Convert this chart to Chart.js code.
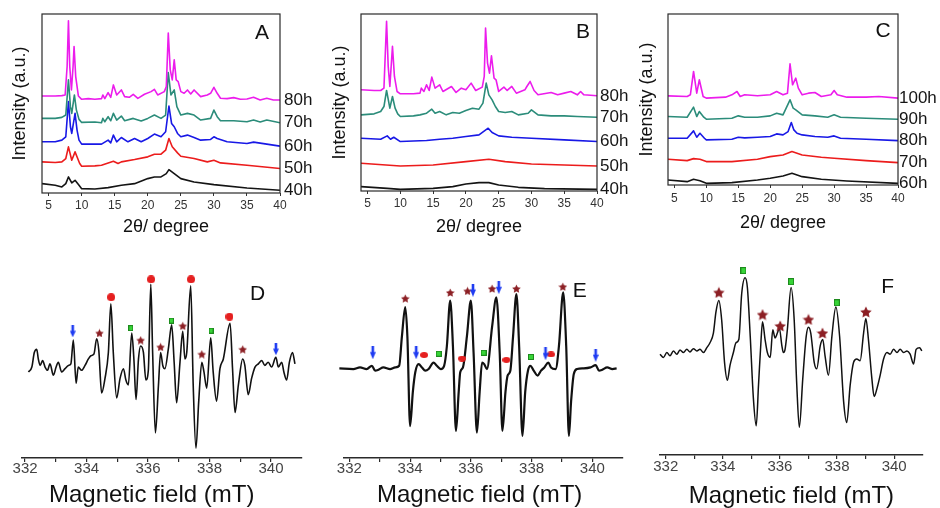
<!DOCTYPE html>
<html><head><meta charset="utf-8">
<script src="https://cdn.jsdelivr.net/npm/chart.js@4.4.1/dist/chart.umd.min.js"></script>
<style>
html,body{margin:0;padding:0;background:#fff;}
body{width:940px;height:508px;position:relative;overflow:hidden;}
canvas{position:absolute;display:block;}
</style></head><body>
<canvas id="cA" width="312" height="245" style="left:0;top:0"></canvas>
<canvas id="cB" width="310" height="245" style="left:320px;top:0"></canvas>
<canvas id="cC" width="310" height="241" style="left:630px;top:0"></canvas>
<canvas id="cD" width="320" height="258" style="left:0;top:250px"></canvas>
<canvas id="cE" width="310" height="258" style="left:320px;top:250px"></canvas>
<canvas id="cF" width="310" height="258" style="left:630px;top:250px"></canvas>
<script>
// ---------- tick labels ----------
const xrdTicks = [5,10,15,20,25,30,35,40];
const eprTicks = [332,333,334,335,336,337,338,339,340];

// ---------- panel A (XRD, [2theta, intensity a.u.]) ----------
const aLabels = ['40h','50h','60h','70h','80h'];
const a40h = [[4,5.6],[6,4.6],[7,3.6],[7.6,5.6],[8.0,9.6],[8.5,6],[9.0,7.6],[9.6,4.6],[10,2.6],[12,2.4],[14,3.2],[16,4.6],[18,5.6],[20,8.6],[21,9.6],[22,9.6],[22.8,11.6],[23.2,14],[24,11.6],[25,8.6],[27,6.6],[30,5],[35,3],[40,1.6]];
const a50h = [[4,18.6],[6,18.2],[7,18.6],[7.6,20.6],[8.0,27.6],[8.5,19.6],[9.0,24.6],[9.7,17.6],[10,16],[12,16.2],[13,16.6],[14.8,19],[15.5,17.6],[16,18.6],[18,20],[20,21.6],[21,23.2],[22,23.2],[22.7,25.6],[23.2,32.6],[23.7,27.6],[24.5,24],[25,22],[27,20.6],[29,18.6],[30,19.6],[31,18],[35,16.6],[40,14.6]];
const a60h = [[4,30.6],[6,30.6],[7,31.6],[7.6,33.6],[8.0,54.6],[8.3,39.6],[8.5,35.6],[9.0,47.6],[9.3,37.6],[9.6,31.6],[10,29.2],[12,29.2],[13,29.2],[14,31.6],[14.4,30],[14.8,34.6],[15.3,30.6],[16,33.2],[17,30.6],[18,32.6],[19,30.6],[20,32.6],[21,35.2],[22,33.6],[22.7,36.6],[23.2,52],[23.6,41.6],[24.0,39.6],[24.5,35.6],[25,33.6],[26,34.6],[27,33.2],[28,31.6],[29.5,32],[30,33.6],[30.5,32.6],[32,30.6],[35,29.6],[36,30.4],[38,29.2],[40,28]];
const a70h = [[4,44.6],[6,44.6],[7,45.2],[7.6,46.6],[8.0,67.6],[8.3,51.6],[8.5,47.6],[8.9,58.6],[9.2,49.6],[9.6,44],[10,42.2],[12,42.4],[13,42],[13.2,44.6],[13.5,42.6],[14,45.6],[14.4,43.2],[14.8,47.6],[15.3,43.6],[16,46],[16.5,43.2],[17.8,44.6],[19,43],[20,44.6],[21,46.6],[22,44.6],[22.7,46.6],[23.1,72],[23.5,58.6],[24.0,61.6],[24.4,51.6],[25,46.6],[26,47.6],[27,46.6],[28,43.6],[29.5,44.6],[30,49.6],[30.5,45.6],[31,43.2],[33,43.2],[35,42.6],[36,43.6],[37,42.4],[38,43.6],[40,42]];
const a80h = [[4,58],[5,58],[6,58],[7,58.2],[7.5,58.6],[7.8,75.6],[8.0,103],[8.2,75.6],[8.45,61.6],[8.7,75.6],[8.85,87.6],[9.1,69.6],[9.5,58],[10,56],[11,56.4],[12,56],[13,56.4],[13.2,58.6],[13.5,56.4],[14,60],[14.4,57.2],[14.8,64.6],[15.3,58.6],[16,61.6],[16.5,57.6],[17.2,57.2],[17.8,59],[18.5,56.6],[19.5,59],[20.5,60.6],[21,62],[21.5,58.6],[22.5,60.6],[22.8,63.6],[23.1,95.6],[23.4,73.6],[23.7,67.6],[24.0,79.6],[24.3,67.6],[24.6,66.6],[25,60.6],[25.5,59.6],[26,61.6],[26.5,59.2],[27.0,61.6],[28,57.6],[29,58.6],[29.5,59.6],[30,63.2],[30.5,59.6],[31,56.6],[32,56.4],[33,57],[34,56],[35,56.2],[36,57.2],[37,55.6],[38,56.6],[39,55.6],[40,55.6]];

// ---------- panel B ----------
const bLabels = ['40h','50h','60h','70h','80h'];
const b40h = [[4,2.6],[8,1.6],[10,1],[15,1.6],[18,2.6],[20,4.2],[22,5],[23.5,5],[25,3.6],[28,2.2],[32,1.4],[40,1]];
const b50h = [[4,16.6],[10,15],[15,15.6],[20,17.6],[23.5,19],[26,17.6],[30,16.2],[35,15.6],[40,15]];
const b60h = [[4,31.6],[7,31],[8.0,33],[8.5,31],[9.0,32.2],[10,29.6],[14,30.2],[16,31],[18,31.6],[20,32.6],[22,33.6],[23.4,37.6],[24,35],[25,33],[27,32.2],[30,31.6],[35,30.6],[40,29.6]];
const b70h = [[4,45.6],[6,46.2],[7,47.6],[7.5,50.6],[7.9,60.2],[8.4,49.6],[8.8,56.6],[9.2,49.6],[9.6,46.2],[10,44.6],[12,45],[13,45.6],[14,46.6],[14.8,49],[15.3,46.6],[16,47.6],[17,45.6],[18,47],[19,46.6],[20,48.2],[21,49.6],[22,49],[22.6,52.6],[23.1,64.6],[23.5,57.6],[24,54.6],[24.5,50.6],[25,47.6],[26,47],[27,47.6],[28,45.6],[29.5,46.6],[30,48.6],[31,45.6],[33,45],[35,45],[37,44.6],[40,44.2]];
const b80h = [[4,60.6],[6,60.2],[7,60.2],[7.5,61.6],[7.9,101.6],[8.15,74.6],[8.4,62.6],[8.6,74.6],[8.8,86.6],[9.1,68.6],[9.5,59.6],[10,58.2],[12,58.2],[13,58.6],[13.2,61.6],[13.6,59.6],[14,63.6],[14.4,60.2],[14.8,68.2],[15.3,61.6],[16,63.6],[16.5,59.6],[17.8,62.6],[18.5,59],[19.3,61.6],[20,60.6],[20.8,64.6],[21.5,60.2],[22.5,62.2],[22.8,68.6],[23.0,97.6],[23.3,76.6],[23.6,70.6],[23.9,81],[24.3,67.6],[24.6,66.6],[25,59.6],[25.8,62.2],[26.3,60.2],[27,62.6],[27.7,58.6],[29,60.6],[29.3,62.6],[29.8,65.6],[30.4,60.2],[31,57.6],[33,59],[34,57.6],[35,58.6],[36,59.6],[37,57.6],[37.5,59.6],[38,57.6],[40,57]];

// ---------- panel C ----------
const cLabels = ['60h','70h','80h','90h','100h'];
const c60h = [[4,3],[7,2],[8,3.4],[9,2.6],[10,1],[14,1.4],[18,3],[20,4],[22,5.4],[23.4,7],[25,5],[28,3.4],[32,2.4],[40,1]];
const c70h = [[4,15.4],[7,14.6],[8,15.8],[9,15.4],[10,14],[14,14],[18,15.4],[20,17],[22,18],[23.4,20],[25,18],[28,16.6],[30,16],[35,14.6],[40,13.4]];
const c80h = [[4,28],[7,28],[8.0,32.4],[8.5,28.6],[9.0,31],[9.7,28],[10,27],[14,27.4],[15,28.6],[16,28.2],[18,28.6],[20,29],[21,30.6],[22,30],[22.8,32],[23.3,37.4],[23.7,33],[24.2,31],[25,30],[27,29],[29,28.6],[30,29.4],[31,28],[35,27.4],[40,26.6]];
const c90h = [[4,41],[7,40.6],[8.0,46.6],[8.5,41],[8.9,44],[9.6,40.6],[10,39.4],[14,40],[15,41.4],[16,40.6],[18,40.6],[20,41.4],[21,43],[22,42],[23.1,51],[23.6,46],[24,45],[25,42],[27,41.4],[29,40.6],[30,42],[31,40.6],[35,40],[40,39.4]];
const c100h = [[4,53.4],[7,53],[7.5,54],[8.0,68],[8.5,55],[8.9,63],[9.5,53],[10,52],[13,52.6],[14,54],[14.8,56],[15.3,53],[16,54],[18,53.4],[20,54],[21,56],[22,54],[22.7,55],[23.1,72.6],[23.5,60],[24.0,64],[24.4,58],[25,54],[26,55],[27,55.4],[28,53],[29.5,54],[30,56.6],[30.5,54],[32,52.6],[35,52.6],[37,53],[40,52]];

// ---------- panel D (EPR, [field mT, signal a.u.]) ----------
const dSpectrum = [[332.11,-2],[332.22,1],[332.30,10],[332.38,12],[332.43,6],[332.49,2],[332.57,5],[332.65,1],[332.73,-1],[332.81,3],[332.92,-4],[333.01,1],[333.08,4],[333.19,-2],[333.30,0],[333.41,2],[333.49,3],[333.57,17.6],[333.66,-9],[333.73,1],[333.84,-1],[333.95,2],[334.06,6],[334.14,8],[334.24,9],[334.33,18.4],[334.40,11],[334.49,-15],[334.60,-6],[334.71,10],[334.79,40],[334.87,10],[334.98,-18],[335.09,-6],[335.20,0],[335.28,-7],[335.36,-10],[335.47,22],[335.54,6],[335.61,-19],[335.69,6],[335.76,14],[335.85,10],[335.93,-7],[336.01,-1],[336.09,52],[336.15,10],[336.24,-39.6],[336.34,-10],[336.41,10],[336.48,2],[336.55,0],[336.66,12],[336.77,27],[336.85,4],[336.93,-21],[337.04,4],[337.13,23],[337.20,6],[337.26,10],[337.39,51],[337.47,-10],[337.56,-49],[337.65,-20],[337.75,4],[337.82,-2],[337.91,-12],[338.04,19],[338.12,-2],[338.23,-20],[338.34,0],[338.45,6],[338.67,28],[338.75,0],[338.83,-27],[338.94,-10],[339.08,6],[339.15,2],[339.26,-16],[339.37,-6],[339.48,1],[339.59,3],[339.70,5],[339.80,2],[339.91,4],[340.02,1],[340.16,7],[340.24,1],[340.35,4],[340.42,-2],[340.51,-7],[340.60,4],[340.70,10],[340.78,3]];
const dArrows = [[333.55,23],[340.16,12]];
const dStars = [[334.42,22],[335.76,17.6],[336.41,13.4],[337.13,26.4],[337.75,9],[339.08,12]];
const dSquares = [[335.44,25],[336.76,29.6],[338.05,23.4]];
const dCircles = [[334.80,44],[336.10,55],[337.40,55],[338.65,32]];

// ---------- panel E ----------
const eSpectrum = [[331.67,0],[332.13,-0.4],[332.35,0.6],[332.57,-0.4],[332.74,1.6],[332.85,-1.4],[332.96,-0.8],[333.12,0.6],[333.34,-0.4],[333.51,0.6],[333.64,1.6],[333.73,19.6],[333.84,37.6],[333.91,19.6],[334.00,-35.4],[334.09,-14.4],[334.17,-2.4],[334.28,2.6],[334.39,0.6],[334.50,-1.4],[334.61,-0.4],[334.77,3.6],[334.88,1.6],[335.01,-0.4],[335.12,1.6],[335.21,13.6],[335.32,41.6],[335.41,13.6],[335.51,-38.4],[335.60,-14.4],[335.65,-2.4],[335.74,0.6],[335.87,19.6],[336.00,41.6],[336.09,9.6],[336.20,-39.4],[336.29,-14.4],[336.37,3.6],[336.44,2.6],[336.53,-0.4],[336.70,25.6],[336.84,43.6],[336.95,9.6],[337.04,-38.4],[337.14,-14.4],[337.21,-4.4],[337.30,-1.4],[337.39,19.6],[337.50,45.6],[337.59,13.6],[337.70,-41.4],[337.79,-14.4],[337.88,-1.4],[337.96,1.6],[338.07,-1.4],[338.20,-4.4],[338.31,-1.4],[338.42,0.6],[338.55,3.6],[338.64,0.6],[338.79,-0.4],[338.90,13.6],[339.04,46.6],[339.14,13.6],[339.23,-41.4],[339.30,-20.4],[339.39,-3.4],[339.50,-0.4],[339.72,0],[339.94,0.6],[340.11,2],[340.22,-1.4],[340.33,-0.8],[340.49,0.6],[340.66,-0.4],[340.80,0]];
const eArrows = [[332.77,9.6],[334.20,9.6],[336.07,48],[336.92,49.6],[338.46,9],[340.11,8]];
const eStars = [[333.84,43],[335.32,46.6],[335.89,47.6],[336.70,49],[337.50,49],[339.03,50.2]];
const eSquares = [[334.94,9],[336.42,9.6],[337.98,7]];
const eCircles = [[334.46,8.2],[335.71,6],[337.17,5.2],[338.64,8.6]];

// ---------- panel F ----------
const fSpectrum = [[331.80,0],[331.92,-2],[332.04,1],[332.15,-1],[332.27,2],[332.39,0],[332.50,2.6],[332.62,1],[332.74,3],[332.85,1.4],[332.97,3.4],[333.09,2],[333.20,3],[333.32,1],[333.44,4],[333.55,7],[333.67,13],[333.76,26],[333.86,33],[333.96,21],[334.06,-5],[334.16,-16],[334.25,-7],[334.37,1],[334.46,7],[334.56,9],[334.66,37],[334.78,47],[334.86,41],[334.96,11],[335.07,-27],[335.17,-44],[335.25,-19],[335.34,9],[335.39,20],[335.48,9],[335.56,1],[335.66,-2],[335.75,15],[335.83,10],[335.91,13],[335.98,16],[336.07,5],[336.12,1],[336.18,3],[336.26,15],[336.39,41],[336.50,21],[336.59,-19],[336.68,-45],[336.80,-15],[336.92,11],[337.00,16.6],[337.08,13],[337.20,-5],[337.29,-9],[337.41,5],[337.50,9],[337.58,-1],[337.70,-13],[337.82,11],[337.96,29],[338.09,11],[338.23,-29],[338.34,-42],[338.46,-19],[338.58,-5],[338.69,-3],[338.81,-4],[338.93,13],[339.01,22],[339.10,9],[339.22,-15],[339.30,-26],[339.40,-21],[339.51,-13],[339.63,-3],[339.75,1],[339.86,0],[339.98,3],[340.10,1],[340.21,3],[340.33,1],[340.45,2],[340.56,0],[340.68,-6],[340.77,3],[340.89,4],[340.97,2]];
const fStars = [[333.86,38],[335.39,24.4],[336.01,17.4],[337.00,21.4],[337.49,13],[339.01,26]];
const fSquares = [[334.72,51.4],[336.39,44.6],[337.99,31.6]];

// ---------- rendering ----------
const F = '"Liberation Sans", Arial, Helvetica, sans-serif';
Chart.defaults.font.family = F;
const toXY = arr => arr.map(p => ({x: p[0], y: p[1]}));
const xrdColors = ['#141414', '#ec1c1c', '#1818e6', '#2b8c7a', '#ec1cec'];

function mk(w, h, draw) {
  const c = document.createElement('canvas');
  c.width = w; c.height = h;
  draw(c.getContext('2d'), w, h);
  return c;
}
function starImg(s) {
  return mk(s, s, (g, w, h) => {
    const R = s / 2, r = R * 0.5;
    g.beginPath();
    for (let i = 0; i < 10; i++) {
      const a = -Math.PI / 2 + i * Math.PI / 5, rr = i % 2 ? r : R;
      const px = w / 2 + rr * Math.cos(a), py = h / 2 + 0.6 + rr * Math.sin(a);
      i ? g.lineTo(px, py) : g.moveTo(px, py);
    }
    g.closePath(); g.fillStyle = '#8c1f24'; g.fill();
  });
}
function arrowImg(w, h) {
  return mk(w, h, (g) => {
    g.fillStyle = '#1f3cf2';
    g.fillRect(w / 2 - 1.3, 0, 2.6, h * 0.5);
    g.beginPath(); g.moveTo(0, h * 0.45); g.lineTo(w, h * 0.45); g.lineTo(w / 2, h); g.closePath(); g.fill();
  });
}
function squareImg(w, h) {
  return mk(w, h, (g) => {
    g.fillStyle = '#37d437'; g.fillRect(0, 0, w, h);
    g.strokeStyle = '#1d8a1d'; g.lineWidth = 1; g.strokeRect(0.5, 0.5, w - 1, h - 1);
  });
}
function ellipseImg(w, h) {
  return mk(w, h, (g) => {
    g.fillStyle = '#e51f1f'; g.beginPath();
    g.ellipse(w / 2, h / 2, w / 2, h / 2, 0, 0, Math.PI * 2); g.fill();
  });
}

const framePlugin = {
  id: 'frame',
  afterDatasetsDraw(c, a, o) {
    if (!o.show) return;
    const g = c.ctx, ca = c.chartArea;
    g.save(); g.strokeStyle = '#2a2a2a'; g.lineWidth = 1.2;
    g.strokeRect(ca.left, ca.top, ca.right - ca.left, ca.bottom - ca.top);
    g.restore();
  }
};
const endLabelPlugin = {
  id: 'endLabels',
  afterDraw(c, a, o) {
    if (!o.show) return;
    const g = c.ctx, ys = c.scales.y;
    g.save(); g.font = '17px ' + F; g.fillStyle = '#151515';
    g.textAlign = 'left'; g.textBaseline = 'middle';
    c.data.datasets.forEach(ds => {
      const last = ds.data[ds.data.length - 1];
      g.fillText(ds.label, c.chartArea.right + o.dx, ys.getPixelForValue(last.y));
    });
    g.restore();
  }
};
const letterPlugin = {
  id: 'letter',
  afterDraw(c, a, o) {
    if (!o.text) return;
    const g = c.ctx;
    g.save(); g.font = '21px ' + F; g.fillStyle = '#111';
    g.textAlign = 'center'; g.textBaseline = 'middle';
    g.fillText(o.text, c.chartArea.right + o.dx, c.chartArea.top + o.dy);
    g.restore();
  }
};

function xrdChart(id, series, labels, o) {
  return new Chart(document.getElementById(id), {
    type: 'scatter',
    data: {datasets: series.map((s, i) => ({
      label: labels[i], data: toXY(s), showLine: true, borderColor: xrdColors[i],
      borderWidth: 1.6, borderJoinStyle: 'round', pointRadius: 0, tension: 0, order: -i
    }))},
    options: {
      responsive: false, animation: false, events: [],
      layout: {padding: {top: 14, right: o.pr, left: 0, bottom: 0}},
      plugins: {legend: {display: false}, tooltip: {enabled: false},
        frame: {show: true}, endLabels: {show: true, dx: o.ldx},
        letter: {text: o.letter, dx: o.ltx, dy: o.lty}},
      scales: {
        x: {type: 'linear', min: 4, max: 40,
          afterBuildTicks: s => { s.ticks = xrdTicks.map(v => ({value: v})); },
          afterFit: s => { s.height = o.xh; },
          border: {display: false},
          grid: {display: true, drawOnChartArea: false, drawTicks: true, tickLength: 3, color: '#333'},
          ticks: {font: {size: 12, lineHeight: 1}, color: '#333', padding: o.tp, maxRotation: 0, autoSkip: false},
          title: {display: true, text: o.xt, font: {size: 18, lineHeight: 1.2}, color: '#111', padding: {top: 0, bottom: 7}}},
        y: {type: 'linear', min: 0, max: o.ymax,
          afterFit: s => { s.width = o.yw; },
          border: {display: false}, grid: {display: false}, ticks: {display: false},
          title: {display: true, text: 'Intensity (a.u.)', font: {size: 18, lineHeight: 1.2}, color: '#111', padding: {top: o.ytp, bottom: 0}}}
      }
    },
    plugins: [framePlugin, endLabelPlugin, letterPlugin]
  });
}

function eprChart(id, spectrum, markers, o) {
  const ds = [{data: toXY(spectrum), showLine: true, borderColor: '#111', borderWidth: o.lw,
    pointRadius: 0, cubicInterpolationMode: 'monotone', clip: false, order: 5}];
  markers.forEach(m => ds.push({data: toXY(m.data), showLine: false, pointStyle: m.img, pointRadius: 4, order: 1}));
  return new Chart(document.getElementById(id), {
    type: 'scatter',
    data: {datasets: ds},
    options: {
      responsive: false, animation: false, events: [],
      layout: {padding: {top: 0, right: o.pr, left: o.pl, bottom: 0}},
      plugins: {legend: {display: false}, tooltip: {enabled: false},
        letter: {text: o.letter, dx: o.ltx, dy: o.lty}},
      scales: {
        x: {type: 'linear', min: o.xmin, max: 341,
          afterBuildTicks: s => { s.ticks = eprTicks.map(v => ({value: v})); },
          afterFit: s => { s.height = o.xh; },
          border: {display: true, color: '#2a2a2a', width: 1.5},
          grid: {display: true, drawOnChartArea: false, drawTicks: true, tickLength: 4, color: '#2a2a2a', lineWidth: 1.2},
          ticks: {callback: v => (v % 2 === 0 ? String(v) : ''), font: {size: 15, lineHeight: 1}, color: '#444',
            padding: o.tp, maxRotation: 0, autoSkip: false},
          title: {display: true, text: o.xt, font: {size: 24, lineHeight: 1}, color: '#111', padding: {top: 0, bottom: o.tb}}},
        y: {type: 'linear', display: false, min: o.ymin, max: o.ymax}
      }
    },
    plugins: [letterPlugin]
  });
}

xrdChart('cA', [a40h, a50h, a60h, a70h, a80h], aLabels,
  {pr: 32, yw: 42, ytp: 9, xh: 52, tp: 4, ymax: 107, ldx: 4, letter: 'A', ltx: -18, lty: 19, xt: '  2θ/ degree'});
xrdChart('cB', [b40h, b50h, b60h, b70h, b80h], bLabels,
  {pr: 33, yw: 41, ytp: 9, xh: 54, tp: 4, ymax: 106, ldx: 3, letter: 'B', ltx: -14, lty: 18, xt: '2θ/ degree'});
xrdChart('cC', [c60h, c70h, c80h, c90h, c100h], cLabels,
  {pr: 42, yw: 38, ytp: 6, xh: 56, tp: 5, ymax: 102.4, ldx: 1, letter: 'C', ltx: -15, lty: 17, xt: '2θ/ degree'});

eprChart('cD', dSpectrum, [
  {data: dArrows, img: arrowImg(6, 12)}, {data: dStars, img: starImg(9)},
  {data: dSquares, img: squareImg(5, 6)}, {data: dCircles, img: ellipseImg(8, 8)}],
  {lw: 1.6, pl: 21.7, pr: 18.3, xmin: 331.89, xh: 50, tp: -1, tb: 1, ymin: -55, ymax: 70,
   xt: 'Magnetic field (mT)   ', letter: 'D', ltx: -44, lty: 39});
eprChart('cE', eSpectrum, [
  {data: eArrows, img: arrowImg(6, 13)}, {data: eStars, img: starImg(9)},
  {data: eSquares, img: squareImg(6, 6)}, {data: eCircles, img: ellipseImg(8, 6)}],
  {lw: 2.2, pl: 23.3, pr: 7.3, xmin: 331.8, xh: 50, tp: -1, tb: 1, ymin: -55, ymax: 69.6,
   xt: 'Magnetic field (mT) ', letter: 'E', ltx: -43, lty: 36});
eprChart('cF', fSpectrum, [
  {data: fStars, img: starImg(12)}, {data: fSquares, img: squareImg(6, 7)}],
  {lw: 1.5, pl: 30, pr: 17.3, xmin: 331.8, xh: 53, tp: 0, tb: 0, ymin: -62, ymax: 61,
   xt: 'Magnetic field (mT)', letter: 'F', ltx: -35, lty: 32});
</script>
</body></html>
